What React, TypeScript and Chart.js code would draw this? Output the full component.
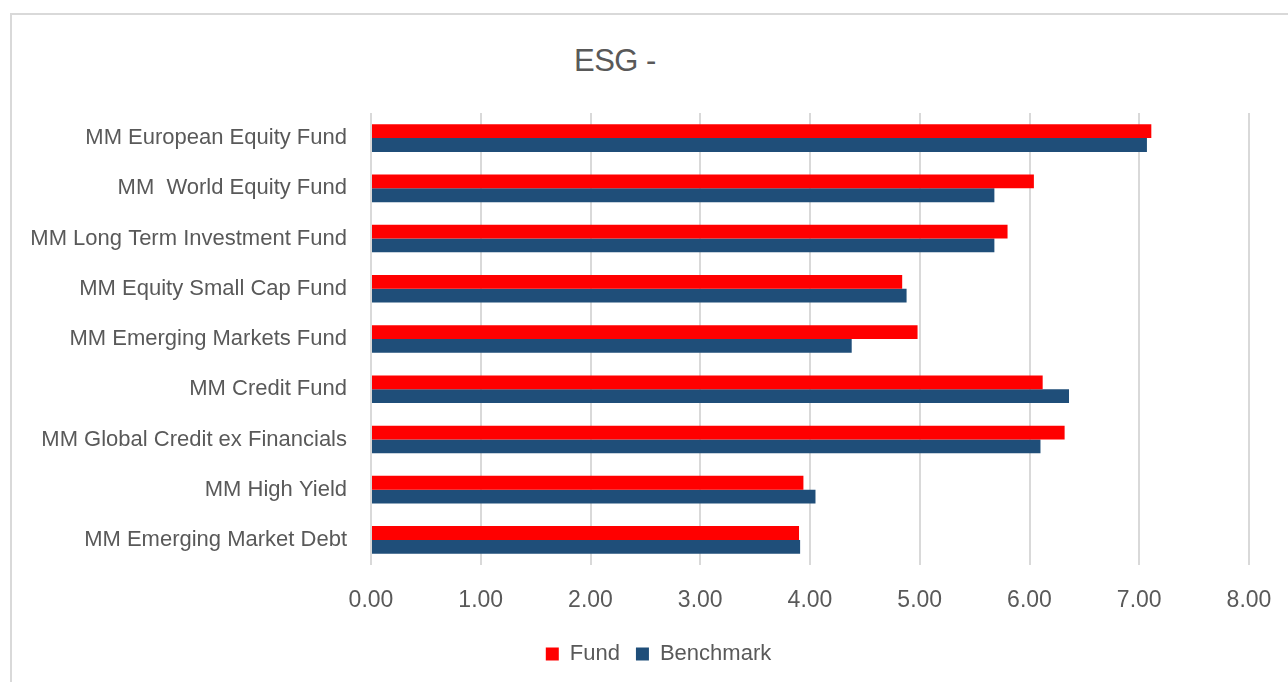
import React, { useEffect, useRef } from "react";
import { Chart, registerables } from "chart.js";

Chart.register(...registerables);

const categories = [
  "MM European Equity Fund",
  "MM  World Equity Fund",
  "MM Long Term Investment Fund",
  "MM Equity Small Cap Fund",
  "MM Emerging Markets Fund",
  "MM Credit Fund",
  "MM Global Credit ex Financials",
  "MM High Yield",
  "MM Emerging Market Debt",
];

const fundValues = [7.11, 6.04, 5.8, 4.84, 4.98, 6.12, 6.32, 3.94, 3.9];
const benchmarkValues = [7.07, 5.68, 5.68, 4.88, 4.38, 6.36, 6.1, 4.05, 3.91];

const seriesNames = ["Fund", "Benchmark"];
const seriesColors = ["#FF0000", "#1F4E79"];
const titleText = "ESG -";
const xMin = 0;
const xMax = 8;
const xStep = 1;

const FONT = "'Liberation Sans', Arial, sans-serif";
const TEXT = "#595959";

// the original frame is wider than the visible crop, so its legend sits right of the canvas centre
const legendShift = {
  id: "legendShift",
  afterLayout(chart: any) {
    const lg = chart.legend;
    if (lg) {
      lg.left += 28;
      lg.right += 28;
    }
  },
};

export default function App() {
  const canvasRef = useRef<HTMLCanvasElement | null>(null);

  useEffect(() => {
    const ctx = canvasRef.current;
    if (!ctx) return;
    const chart = new Chart(ctx, {
      type: "bar",
      data: {
        labels: categories,
        datasets: [
          {
            label: seriesNames[0],
            data: fundValues,
            backgroundColor: seriesColors[0],
            categoryPercentage: 0.55,
            barPercentage: 1,
          },
          {
            label: seriesNames[1],
            data: benchmarkValues,
            backgroundColor: seriesColors[1],
            categoryPercentage: 0.55,
            barPercentage: 1,
          },
        ],
      },
      options: {
        indexAxis: "y",
        animation: false,
        responsive: false,
        maintainAspectRatio: false,
        layout: { padding: { top: 98, right: 39, bottom: 7, left: 0 } },
        scales: {
          x: {
            min: xMin,
            max: xMax,
            grid: { color: "#d9d9d9", lineWidth: 2, drawTicks: false },
            border: { display: false },
            ticks: {
              stepSize: xStep,
              padding: 22,
              color: TEXT,
              font: { family: FONT, size: 23 },
              callback: (v: any) => Number(v).toFixed(2),
            },
            afterFit: (scale: any) => {
              scale.height = 62;
              scale.paddingLeft = 0;
              scale.paddingRight = 0;
            },
          },
          y: {
            grid: { display: false, drawTicks: false },
            border: { display: false },
            ticks: {
              padding: 24,
              color: TEXT,
              font: { family: FONT, size: 22 },
            },
            afterFit: (scale: any) => {
              scale.width = 359;
            },
          },
        },
        plugins: {
          title: { display: false },
          tooltip: { enabled: false },
          legend: {
            position: "bottom",
            labels: {
              boxWidth: 13,
              boxHeight: 13,
              padding: 16,
              color: TEXT,
              font: { family: FONT, size: 22 },
            },
          },
        },
      },
      plugins: [legendShift],
    });
    return () => chart.destroy();
  }, []);

  return (
    <div
      style={{
        position: "fixed",
        left: 0,
        top: 0,
        width: 1288,
        height: 682,
        overflow: "hidden",
        background: "#fff",
      }}
    >
      <div
        style={{
          position: "absolute",
          left: 10,
          top: 13,
          width: 1300,
          height: 700,
          border: "2px solid #d9d9d9",
          boxSizing: "border-box",
        }}
      />
      <div
        style={{
          position: "absolute",
          left: 574,
          top: 43,
          fontFamily: FONT,
          fontSize: 31,
          color: TEXT,
          whiteSpace: "pre",
          letterSpacing: -0.5,
        }}
      >
        {titleText}
      </div>
      <canvas
        ref={canvasRef}
        width={1276}
        height={667}
        style={{ position: "absolute", left: 12, top: 15 }}
      />
    </div>
  );
}
